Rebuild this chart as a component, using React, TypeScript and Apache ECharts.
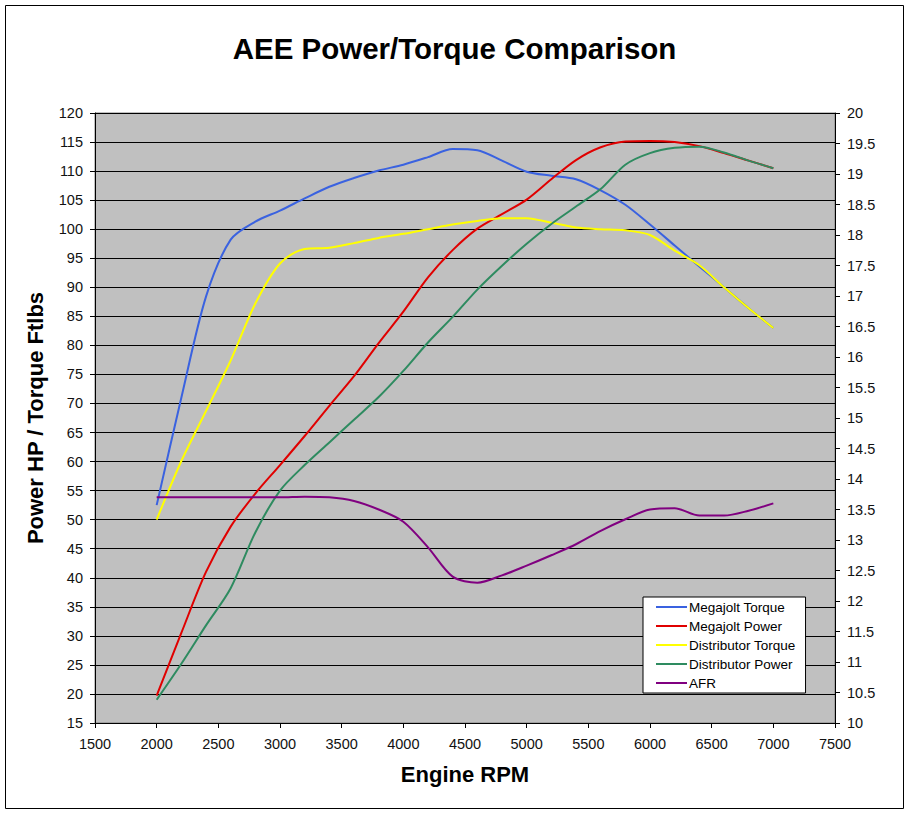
import React, { useEffect, useRef } from "react";
import * as echarts from "echarts";

const rpm = [2000, 2200, 2400, 2600, 2800, 3000, 3200, 3400, 3600, 3800, 4000, 4200, 4400, 4600, 4800, 5000, 5200, 5400, 5600, 5800, 6000, 6200, 6400, 6600, 6800, 7000];

const megajoltTorque = [52.5, 71, 88.4, 98.2, 101.3, 103.2, 105.3, 107.3, 108.8, 110.1, 111.1, 112.4, 113.8, 113.6, 111.8, 109.9, 109.2, 108.6, 106.7, 104.2, 100.8, 97.2, 93.6, 90, 86.4, 83];
const megajoltPower = [19.7, 30.5, 41, 48.8, 54.5, 59.4, 64.4, 69.6, 74.7, 80.4, 85.8, 91.7, 96.4, 100.1, 102.6, 105.1, 108.6, 111.9, 114.1, 115.1, 115.2, 115, 114.3, 113.1, 111.8, 110.5];
const distributorTorque = [50, 60.1, 68.7, 77.4, 87.2, 94.1, 96.6, 96.8, 97.6, 98.5, 99.2, 100, 100.8, 101.4, 101.9, 101.9, 101.1, 100.3, 100, 99.8, 99, 96.3, 93.8, 90, 86.4, 83];
const distributorPower = [19, 25.2, 31.8, 38.2, 47.8, 55, 59.4, 63.3, 67.2, 71.1, 75.6, 80.5, 84.9, 89.6, 93.7, 97.5, 100.9, 103.9, 106.9, 111.1, 113.1, 114, 114.2, 113.2, 111.8, 110.5];
const afr = [13.7, 13.7, 13.7, 13.7, 13.7, 13.7, 13.71, 13.7, 13.64, 13.5, 13.3, 12.88, 12.4, 12.3, 12.42, 12.58, 12.75, 12.93, 13.15, 13.34, 13.5, 13.52, 13.4, 13.4, 13.48, 13.6];

const seriesNames = ["Megajolt Torque", "Megajolt Power", "Distributor Torque", "Distributor Power", "AFR"];
const seriesColors = ["#3a62e0", "#e00000", "#ffff00", "#2e8b60", "#800080"];

const FONT = "'Liberation Sans', Arial, sans-serif";

export default function App() {
  const ref = useRef<HTMLDivElement>(null);
  useEffect(() => {
    if (!ref.current) return;
    const chart = echarts.init(ref.current, undefined, { renderer: "svg" });
    const values = [megajoltTorque, megajoltPower, distributorTorque, distributorPower, afr];
    const axisLabelStyle = { color: "#111", fontSize: 14.5, fontFamily: FONT };
    chart.setOption({
      animation: false,
      backgroundColor: "#ffffff",
      title: {
        text: "AEE Power/Torque Comparison",
        left: "center",
        top: 28,
        textStyle: { fontSize: 29.5, fontWeight: "bold", color: "#000", fontFamily: FONT },
      },
      graphic: [
        {
          type: "rect",
          shape: { x: 5.5, y: 5.5, width: 898, height: 803 },
          style: { fill: "none", stroke: "#000", lineWidth: 1 },
          silent: true,
          z: 100,
        },
      ],
      grid: {
        left: 95,
        right: 74,
        top: 113,
        bottom: 90,
        show: true,
        backgroundColor: "#c0c0c0",
        borderColor: "#808080",
        borderWidth: 1,
      },
      legend: {
        orient: "vertical",
        left: 643,
        top: 597,
        data: seriesNames,
        icon: "rect",
        itemWidth: 31,
        itemHeight: 2,
        itemGap: 5,
        padding: [3, 10, 3, 13],
        backgroundColor: "#ffffff",
        borderColor: "#000",
        borderWidth: 1,
        textStyle: { fontSize: 13.5, color: "#000", fontFamily: FONT, lineHeight: 14, padding: [0, 0, 0, -3] },
      },
      xAxis: {
        type: "value",
        min: 1500,
        max: 7500,
        interval: 500,
        name: "Engine RPM",
        nameLocation: "middle",
        nameGap: 40,
        nameTextStyle: { fontSize: 22, fontWeight: "bold", color: "#000", fontFamily: FONT },
        axisLine: { show: true, lineStyle: { color: "#000", width: 1 } },
        axisTick: { show: true, length: 5, lineStyle: { color: "#000" } },
        axisLabel: { ...axisLabelStyle, margin: 13, formatter: (v: number) => String(v) },
        splitLine: { show: false },
      },
      yAxis: [
        {
          type: "value",
          min: 15,
          max: 120,
          interval: 5,
          name: "Power HP / Torque Ftlbs",
          nameLocation: "middle",
          nameGap: 49,
          nameTextStyle: { fontSize: 22, fontWeight: "bold", color: "#000", fontFamily: FONT },
          axisLine: { show: true, lineStyle: { color: "#000", width: 1 } },
          axisTick: { show: true, length: 5, lineStyle: { color: "#000" } },
          axisLabel: { ...axisLabelStyle, margin: 12 },
          splitLine: { show: true, lineStyle: { color: "#000", width: 1 } },
        },
        {
          type: "value",
          position: "right",
          min: 10,
          max: 20,
          interval: 0.5,
          axisLine: { show: true, lineStyle: { color: "#000", width: 1 } },
          axisTick: { show: true, length: 5, lineStyle: { color: "#000" } },
          axisLabel: { ...axisLabelStyle, margin: 12 },
          splitLine: { show: false },
        },
      ],
      series: seriesNames.map((name, i) => ({
        name,
        type: "line",
        yAxisIndex: i === 4 ? 1 : 0,
        data: rpm.map((r, j) => [r, values[i][j]]),
        smooth: 0.3,
        showSymbol: false,
        symbol: "none",
        itemStyle: { color: seriesColors[i] },
        lineStyle: { color: seriesColors[i], width: 2 },
        z: 3 + i,
      })),
    });
    return () => chart.dispose();
  }, []);
  return (
    <div
      ref={ref}
      style={{ position: "absolute", left: 0, top: 0, width: 909, height: 813, background: "#fff" }}
    />
  );
}
